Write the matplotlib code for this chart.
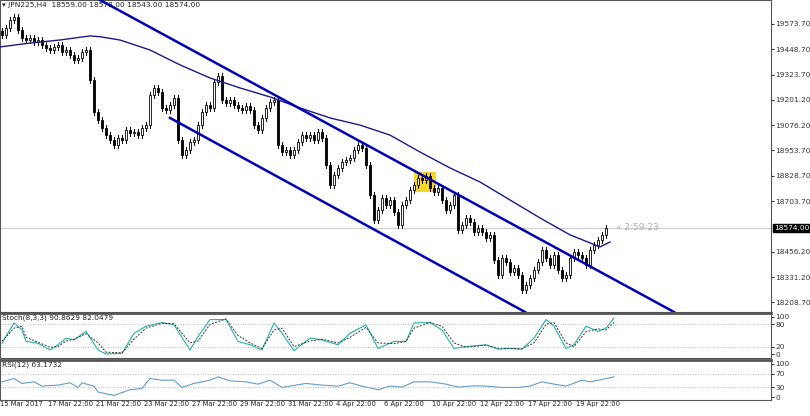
import numpy as np
import matplotlib.pyplot as plt
from matplotlib.patches import Rectangle

# H4 closes, bar index 0..151
closes = [19519, 19553, 19592, 19607, 19543, 19504, 19494, 19504, 19484, 19494,
          19470, 19455, 19445, 19460, 19470, 19435, 19445, 19420, 19396, 19406,
          19435, 19445, 19298, 19141, 19102, 19063, 19028, 19004, 18980, 19014,
          19004, 19053, 19038, 19043, 19028, 19063, 19077, 19224, 19259, 19239,
          19161, 19151, 19176, 19210, 19004, 18930, 18955, 18994, 19004, 19077,
          19141, 19176, 19161, 19288, 19318, 19200, 19185, 19200, 19176, 19161,
          19151, 19171, 19151, 19077, 19053, 19112, 19161, 19190, 19200, 18980,
          18945, 18955, 18930, 18955, 18994, 19028, 19014, 19028, 19004, 19043,
          19014, 18882, 18784, 18832, 18867, 18896, 18906, 18916, 18955, 18980,
          18965, 18882, 18735, 18612, 18661, 18720, 18686, 18710, 18651, 18588,
          18686, 18710, 18759, 18784, 18818, 18808, 18828, 18769, 18749, 18769,
          18710, 18661, 18686, 18735, 18563, 18588, 18622, 18602, 18553, 18573,
          18553, 18524, 18539, 18416, 18343, 18426, 18406, 18357, 18377, 18343,
          18269, 18294, 18328, 18367, 18406, 18465, 18426, 18392, 18441, 18367,
          18328, 18343, 18426, 18455, 18441, 18426, 18392, 18465, 18490, 18514,
          18539, 18574]
first_open = 19540

ma_idx = [-0.5, 7, 14.5, 22, 24.5, 29.5, 37, 44.5, 52, 59.5, 67, 74.5, 82, 89.5, 97,
          104.5, 112, 119.5, 127, 134.5, 142, 149.5, 152]
ma_vals = [19460, 19479, 19494, 19514, 19510, 19494, 19445, 19372, 19308, 19259,
           19215, 19161, 19112, 19077, 19028, 18945, 18867, 18798, 18710, 18622,
           18539, 18480, 18504]

upper_ch_idx = [24.5, 168]
upper_ch_val = [19690, 18161]
lower_ch_idx = [42, 130.75]
lower_ch_val = [19112, 18161]

price_ticks = [19573.70, 19448.70, 19323.70, 19201.20, 19076.20, 18953.70,
               18828.70, 18703.70, 18456.20, 18331.20, 18208.70]
last_price = 18574.00

stoch_idx = [0, 3, 5, 6, 9, 12, 14, 16, 18, 21, 24, 26, 30, 33, 36, 40, 43, 47, 49, 52,
             56, 59, 62, 65, 68, 70, 73, 77, 80, 84, 87, 91, 94, 98, 101, 103, 107, 110,
             113, 116, 121, 124, 127, 130, 133, 136, 138, 141, 143, 146, 149, 151, 153]
stoch_k = [29, 84, 65, 34, 29, 11, 25, 43, 38, 61, 11, 0, 2, 56, 75, 85, 79, 11, 47, 93,
           93, 34, 25, 11, 84, 56, 9, 43, 38, 25, 56, 79, 15, 34, 34, 84, 85, 65, 15, 20,
           25, 13, 15, 13, 43, 93, 75, 15, 25, 75, 61, 70, 97]
stoch_d = [35, 70, 75, 45, 32, 18, 20, 35, 40, 55, 30, 5, 3, 40, 70, 83, 82, 30, 35, 80,
           95, 50, 30, 15, 65, 70, 20, 35, 40, 30, 45, 72, 30, 28, 34, 70, 85, 75, 30, 18,
           24, 16, 15, 14, 30, 80, 85, 30, 20, 60, 68, 65, 85]

rsi_idx = [0, 3, 5, 8, 10, 14, 17, 19, 20, 23, 24, 28, 32, 35, 37, 40, 43, 45, 48, 52,
           54, 57, 61, 64, 67, 70, 72, 76, 80, 84, 87, 90, 94, 97, 100, 103, 107, 111,
           114, 118, 121, 125, 129, 132, 135, 138, 141, 145, 147, 150, 153]
rsi_vals = [46, 56, 41, 46, 33, 36, 43, 29, 43, 33, 15, 5, 22, 26, 56, 51, 51, 29, 41, 51,
            61, 49, 46, 39, 51, 29, 33, 41, 36, 33, 43, 33, 22, 33, 30, 46, 46, 39, 30, 34,
            33, 29, 29, 33, 46, 39, 33, 51, 46, 53, 61]

date_idx = list(range(0, 145, 12))
date_labels = ["15 Mar 2017", "17 Mar 22:00", "21 Mar 22:00", "23 Mar 22:00",
               "27 Mar 22:00", "29 Mar 22:00", "31 Mar 22:00", "4 Apr 22:00",
               "6 Apr 22:00", "10 Apr 22:00", "12 Apr 22:00", "17 Apr 22:00",
               "19 Apr 22:00"]

plt.rcParams['font.family'] = ['Liberation Sans Narrow', 'DejaVu Sans']
fs = 5.3
W, H = 810, 416
fig = plt.figure(figsize=(8.1, 4.16), dpi=100)
right = 771
xl = (-0.5, (right - 2) / 4)

def fax(top, bot):
    return fig.add_axes([0, (H - bot) / H, right / W, (bot - top) / H])

ax = fax(0, 312)
axs = fax(313, 358)
axr = fax(360, 400)
for a in (ax, axs, axr):
    a.set_xlim(*xl)
    a.set_xticks([])
    a.yaxis.tick_right()
    a.tick_params(axis='y', labelsize=fs, length=2, pad=1, colors='#333333')
    for s in a.spines.values():
        s.set_color('#555555')
        s.set_linewidth(0.8)
axs.spines['top'].set_linewidth(2)
axr.spines['top'].set_linewidth(2)

# candles
ax.set_ylim(18161, 19690)
opens = [first_open] + closes[:-1]
for i, (o, c) in enumerate(zip(opens, closes)):
    hi, lo = max(o, c) + 15, min(o, c) - 15
    ax.plot([i, i], [lo, hi], color='black', lw=0.7, zorder=3)
    if c >= o:
        ax.add_patch(Rectangle((i - 0.32, o), 0.64, max(c - o, 2), facecolor='white',
                               edgecolor='black', lw=0.6, zorder=4))
    else:
        ax.add_patch(Rectangle((i - 0.32, c), 0.64, max(o - c, 2), facecolor='black',
                               edgecolor='black', lw=0.6, zorder=4))

ax.plot(ma_idx, ma_vals, color='#1a1a8c', lw=1.0, zorder=5)
ax.plot(upper_ch_idx, upper_ch_val, color='#0000b4', lw=1.8, zorder=5)
ax.plot(lower_ch_idx, lower_ch_val, color='#0000b4', lw=1.8, zorder=5)
ax.add_patch(Rectangle((103, 18750), 5.5, 95, facecolor='#f5d000', alpha=0.85, zorder=2))
ax.axhline(last_price, color='#cccccc', lw=0.8, zorder=1)
ax.set_yticks(price_ticks)
ax.set_yticklabels([f"{v:.2f}" for v in price_ticks])
ax.text(1.004, (last_price - 18161) / (19690 - 18161), f"{last_price:.2f}", transform=ax.transAxes,
        fontsize=fs, color='white', va='center', ha='left',
        bbox=dict(facecolor='black', edgecolor='black', pad=0.8))
ax.text(153.5, last_price, "« 2:59:23", fontsize=6.5, color='#b0b0b0', va='center')
ax.text(0.002, 0.995, "▾ JPN225,H4  18559.00 18578.00 18543.00 18574.00", transform=ax.transAxes,
        fontsize=fs, va='top', ha='left', color='#222222')

# stochastic
axs.set_ylim(-10.8, 110.8)
axs.plot(stoch_idx, stoch_k, color='#20b2aa', lw=0.8)
axs.plot(stoch_idx, stoch_d, color='#333333', lw=0.7, ls=(0, (2, 1.5)))
for lv in (80, 20):
    axs.axhline(lv, color='#aaaaaa', lw=0.6, ls=(0, (1, 2)))
axs.set_yticks([100, 80, 20, 0])
axs.text(0.002, 0.97, "Stoch(8,3,3) 90.8629 82.0479", transform=axs.transAxes,
         fontsize=fs, va='top', color='#222222')

# RSI
axr.set_ylim(-9, 112)
axr.plot(rsi_idx, rsi_vals, color='#5f9ec9', lw=0.8)
for lv in (70, 30):
    axr.axhline(lv, color='#aaaaaa', lw=0.6, ls=(0, (1, 2)))
axr.set_yticks([100, 70, 30, 0])
axr.text(0.002, 0.97, "RSI(12) 63.1732", transform=axr.transAxes,
         fontsize=fs, va='top', color='#222222')

for i, lab in zip(date_idx, date_labels):
    axr.text(i - 0.5, -12, lab, fontsize=4.9, ha='left', va='top', color='#222222')
fig.savefig("out.png", dpi=100, facecolor='white')
